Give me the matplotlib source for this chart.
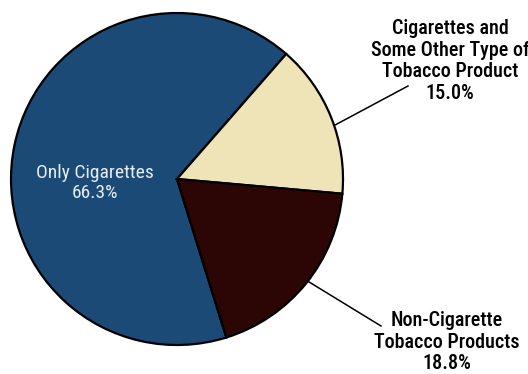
import numpy as np
import matplotlib
matplotlib.use("Agg")
import matplotlib.pyplot as plt

# slices, in drawing order (clockwise)
labels = ["Only Cigarettes", "Cigarettes and\nSome Other Type of\nTobacco Product", "Non-Cigarette\nTobacco Products"]
shares = [66.3, 15.0, 18.8]
colors = ["#1b4a77", "#efe4b8", "#2c0505"]

plt.rcParams['font.family'] = ['Roboto Condensed', 'DejaVu Sans']

W, H = 528, 374
fig = plt.figure(figsize=(W / 100, H / 100), dpi=100)
ax = fig.add_axes([0, 0, 1, 1])

cx, cy, r = 177, H - 179, 166
wedges, _ = ax.pie(shares, colors=colors, startangle=287.3, counterclock=False,
                   center=(cx, cy), radius=r, frame=True,
                   wedgeprops=dict(edgecolor="black", linewidth=1.6))
ax.set_xlim(0, W)
ax.set_ylim(0, H)
ax.set_aspect("equal")
ax.axis("off")

# inside label
ax.text(95, H - 183, labels[0] + "\n%.1f%%" % shares[0], ha="center", va="center",
        color="#e6edf4", fontsize=14, linespacing=1.2)

# outside labels with leader lines
def leader(angle, end, txt, pos):
    a = np.deg2rad(angle)
    x0, y0 = cx + r * np.cos(a), cy + r * np.sin(a)
    ax.plot([x0, end[0]], [y0, H - end[1]], color="black", lw=1.1)
    ax.text(pos[0], H - pos[1], txt, ha="center", va="center",
            color="black", fontsize=14.5, fontweight="medium", linespacing=1.17)

leader(18.8, (408, 86), labels[1] + "\n%.1f%%" % shares[1], (450, 61))
leader(-38, (381, 326), labels[2] + "\n%.1f%%" % shares[2], (447, 342))

fig.savefig("out.png", dpi=100)
